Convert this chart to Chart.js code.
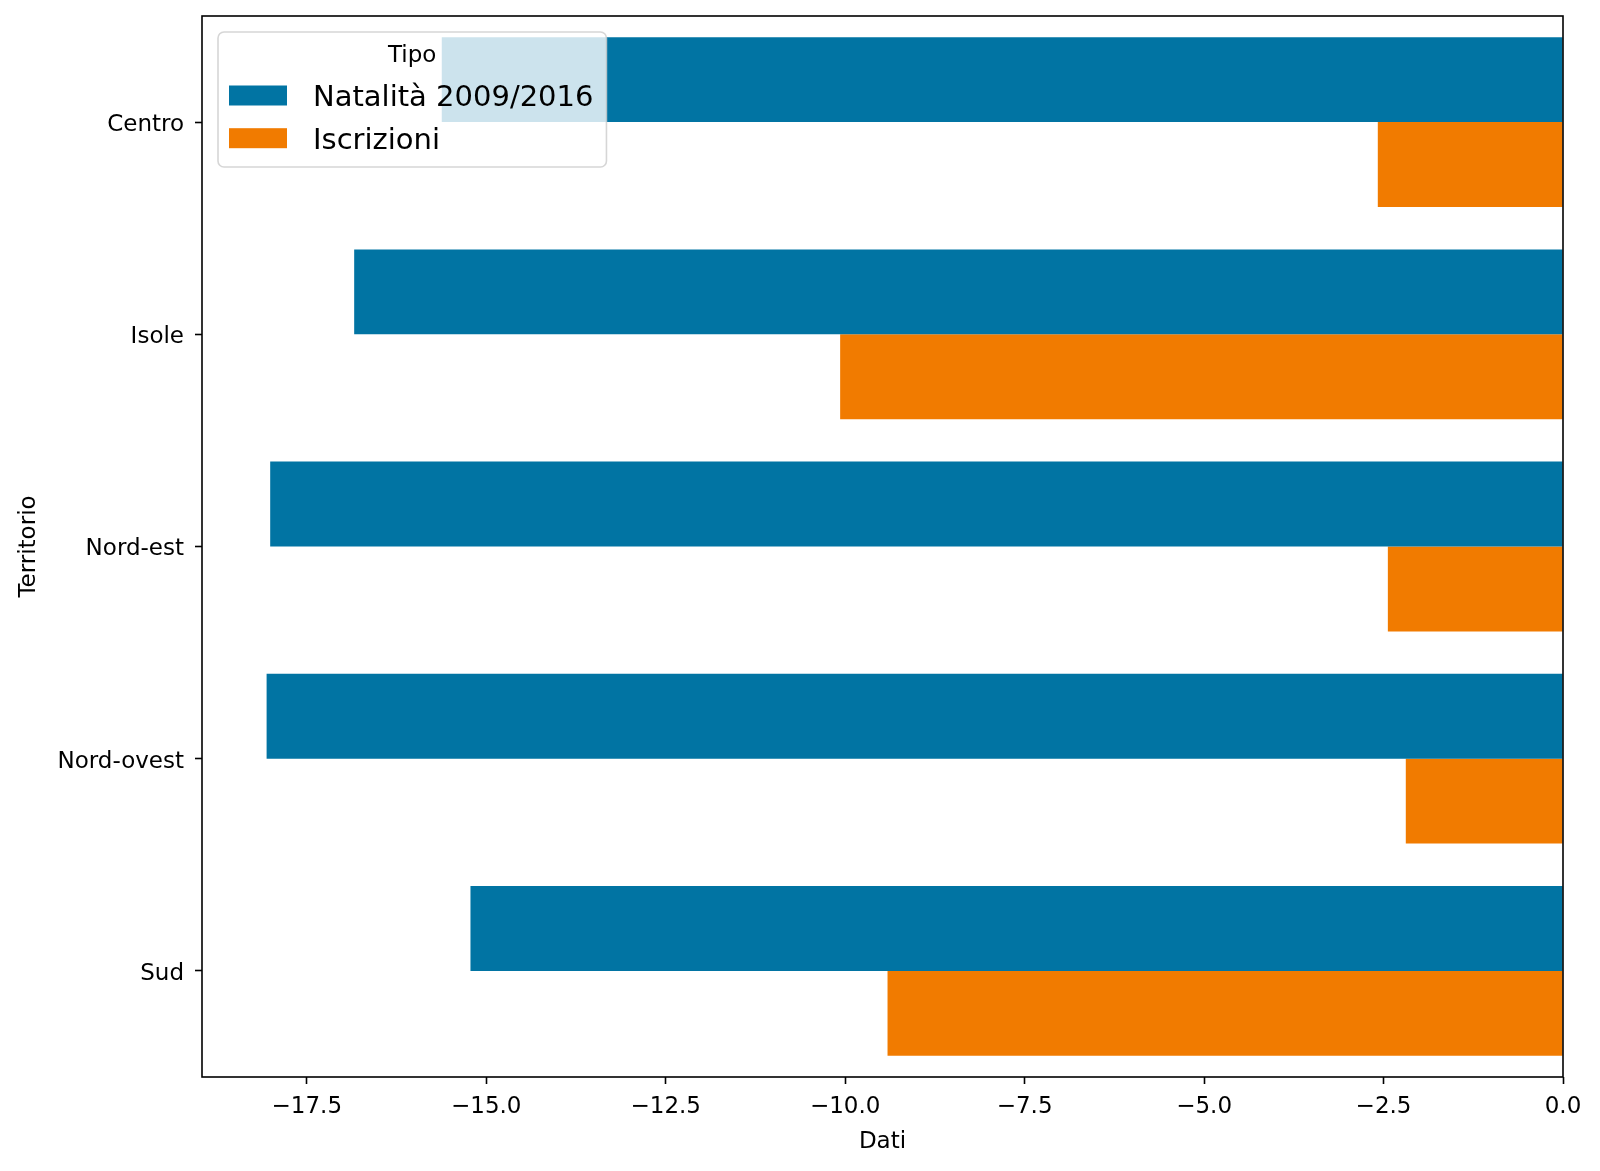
<!DOCTYPE html>
<html lang="it">
<head>
<meta charset="UTF-8">
<title>Natalità e iscrizioni per territorio</title>
<script src="https://cdn.jsdelivr.net/npm/chart.js"></script>
<style>
  html, body { margin: 0; padding: 0; background: #fff; }
</style>
</head>
<body>
<canvas id="chart" width="1600" height="1171"></canvas>
<script>
  const territori = ['Centro', 'Isole', 'Nord-est', 'Nord-ovest', 'Sud'];
  const natalita = [-15.62, -16.84, -18.01, -18.06, -15.22];
  const iscrizioni = [-2.58, -10.07, -2.44, -2.19, -9.41];
  const serieNomi = ['Natalità 2009/2016', 'Iscrizioni'];
  const xTicks = [-17.5, -15, -12.5, -10, -7.5, -5, -2.5, 0];
  const xMin = -18.96, xMax = 0;
  const legendTitle = 'Tipo';

  const blu = '#0174a3';
  const arancio = '#f17b00';
  const FONT = '"DejaVu Sans", sans-serif';

  Chart.defaults.font.family = FONT;
  Chart.defaults.font.size = 23;
  Chart.defaults.color = '#000';

  // black box around the plot area
  const frame = {
    id: 'frame',
    afterDatasetsDraw(chart) {
      const { ctx, chartArea: a } = chart;
      ctx.save();
      ctx.strokeStyle = '#000';
      ctx.lineWidth = 1.6;
      ctx.strokeRect(a.left, a.top, a.right - a.left, a.bottom - a.top);
      ctx.restore();
    }
  };

  // matplotlib-like legend inside the axes, top left
  const boxLegend = {
    id: 'boxLegend',
    afterDraw(chart) {
      const { ctx, chartArea: a } = chart;
      const sets = chart.data.datasets;
      ctx.save();
      ctx.font = '29px ' + FONT;
      const tw = Math.max(...sets.map(d => ctx.measureText(d.label).width));
      const x = a.left + 16, y = a.top + 16, w = 95 + tw + 13, h = 135;
      ctx.beginPath();
      ctx.roundRect(x, y, w, h, 6);
      ctx.fillStyle = 'rgba(255,255,255,0.8)';
      ctx.fill();
      ctx.strokeStyle = 'rgba(204,204,204,0.8)';
      ctx.lineWidth = 1.6;
      ctx.stroke();

      ctx.fillStyle = '#000';
      ctx.textBaseline = 'middle';
      ctx.textAlign = 'center';
      ctx.font = '23px ' + FONT;
      ctx.fillText(legendTitle, x + w / 2, y + 24);

      ctx.textAlign = 'left';
      ctx.font = '29px ' + FONT;
      sets.forEach((d, i) => {
        const cy = y + 63.5 + i * 42.7;
        ctx.fillStyle = d.backgroundColor;
        ctx.fillRect(x + 11, cy - 10, 58, 20);
        ctx.fillStyle = '#000';
        ctx.fillText(d.label, x + 95, cy + 3);
      });
      ctx.restore();
    }
  };

  new Chart(document.getElementById('chart'), {
    type: 'bar',
    data: {
      labels: territori,
      datasets: [
        { label: serieNomi[0], data: natalita, backgroundColor: blu },
        { label: serieNomi[1], data: iscrizioni, backgroundColor: arancio }
      ]
    },
    options: {
      indexAxis: 'y',
      responsive: false,
      animation: false,
      categoryPercentage: 0.8,
      barPercentage: 1.0,
      layout: { padding: { top: 16, right: 37, left: 0, bottom: 0 } },
      plugins: {
        legend: { display: false },
        tooltip: { enabled: false }
      },
      scales: {
        x: {
          min: xMin,
          max: xMax,
          afterFit: s => { s.height = 94; },
          afterBuildTicks: s => { s.ticks = xTicks.map(v => ({ value: v })); },
          ticks: {
            callback: v => Number(v).toFixed(1).replace('-', '\u2212'),
            padding: 9,
            maxRotation: 0,
            autoSkip: false
          },
          grid: {
            drawOnChartArea: false,
            tickLength: 7,
            tickColor: '#000',
            tickWidth: 1.6
          },
          border: { display: false },
          title: { display: true, text: 'Dati', padding: { top: 0, bottom: 15 } }
        },
        y: {
          afterFit: s => { s.width = 202; s.paddingTop = 0; s.paddingBottom = 0; },
          ticks: { padding: 11, labelOffset: 3 },
          grid: {
            offset: false,
            drawOnChartArea: false,
            tickLength: 7,
            tickColor: '#000',
            tickWidth: 1.6
          },
          border: { display: false },
          title: { display: true, text: 'Territorio', padding: { top: 15, bottom: 0 } }
        }
      }
    },
    plugins: [frame, boxLegend]
  });
</script>
</body>
</html>
